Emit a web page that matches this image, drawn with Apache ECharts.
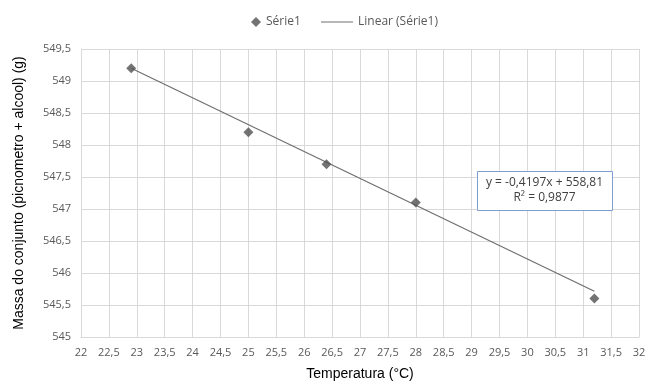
<!DOCTYPE html>
<html><head><meta charset="utf-8">
<script src="https://cdn.jsdelivr.net/npm/echarts@6/dist/echarts.min.js"></script>
<style>html,body{margin:0;padding:0;background:#fff}#c{width:650px;height:387px}</style>
</head><body><div id="c"></div>
<script>
const temperatures = [22.9, 25, 26.4, 28, 31.2];
const masses = [549.2, 548.2, 547.7, 547.1, 545.6];
const trendSlope = -0.4197;
const trendIntercept = 558.81;
const equationText = 'y = -0,4197x + 558,81';
const r2Text = 'R² = 0,9877';
const seriesName = 'Série1';
const trendName = 'Linear (Série1)';
const xTitle = 'Temperatura (°C)';
const yTitle = 'Massa do conjunto (picnometro + alcool) (g)';

const pts = temperatures.map((t, i) => [t, masses[i]]);
const tMin = Math.min(...temperatures), tMax = Math.max(...temperatures);
const trend = [[tMin, trendIntercept + trendSlope * tMin], [tMax, trendIntercept + trendSlope * tMax]];
const fmt = v => String(v).replace('.', ',');
const labelFont = 'Open Sans';
const legendText = {color: '#595959', fontSize: 12, fontFamily: labelFont};

const chart = echarts.init(document.getElementById('c'), null, {renderer: 'canvas'});
chart.setOption({
  animation: false,
  backgroundColor: '#fff',
  legend: [
    {
      left: 246, top: 11, itemWidth: 10, itemHeight: 10, itemGap: 6,
      textStyle: legendText,
      data: [{name: seriesName, icon: 'diamond', itemStyle: {color: '#505050'}}]
    },
    {
      left: 316, top: 11, itemWidth: 32, itemHeight: 10, itemGap: 2,
      textStyle: legendText,
      data: [{name: trendName, icon: 'path://M0,5 L32,5 L32,6 L0,6 Z', itemStyle: {color: '#6f6f6f'}}]
    }
  ],
  grid: {left: 81, right: 11, top: 49, bottom: 50},
  xAxis: {
    type: 'value', min: 22, max: 32, interval: 0.5,
    name: xTitle, nameLocation: 'middle', nameGap: 30,
    nameTextStyle: {color: '#000', fontSize: 14, fontFamily: 'Liberation Sans'},
    axisLine: {show: true, lineStyle: {color: '#d9d9d9'}},
    axisTick: {show: false},
    axisLabel: {color: '#595959', fontSize: 11, fontFamily: labelFont, formatter: fmt, margin: 10},
    splitLine: {show: true, lineStyle: {color: '#d9d9d9', width: 1}}
  },
  yAxis: {
    type: 'value', min: 545, max: 549.5, interval: 0.5,
    name: yTitle, nameLocation: 'middle', nameGap: 55,
    nameTextStyle: {color: '#000', fontSize: 14, fontFamily: 'Liberation Sans'},
    axisLine: {show: true, lineStyle: {color: '#d9d9d9'}},
    axisTick: {show: false},
    axisLabel: {color: '#595959', fontSize: 11, fontFamily: labelFont, formatter: fmt, margin: 10},
    splitLine: {show: true, lineStyle: {color: '#d9d9d9', width: 1}}
  },
  series: [
    {
      name: trendName, type: 'line', data: trend, symbol: 'none',
      lineStyle: {color: '#6f6f6f', width: 1.2}, itemStyle: {color: '#6f6f6f'}, z: 2
    },
    {
      name: seriesName, type: 'scatter', data: pts, symbol: 'diamond', symbolSize: 10,
      itemStyle: {color: '#505050'}, z: 3
    }
  ],
  graphic: [
    {type: 'rect', left: 477, top: 171, z: 100,
     shape: {width: 135, height: 39},
     style: {fill: '#ffffff', stroke: '#7f9fd3', lineWidth: 1}},
    {type: 'text', x: 544.5, y: 175, z: 101,
     style: {text: equationText + '\n' + r2Text, align: 'center', verticalAlign: 'top',
       fill: '#404040', fontSize: 12, fontFamily: labelFont, lineHeight: 15}}
  ]
});
</script></body></html>
